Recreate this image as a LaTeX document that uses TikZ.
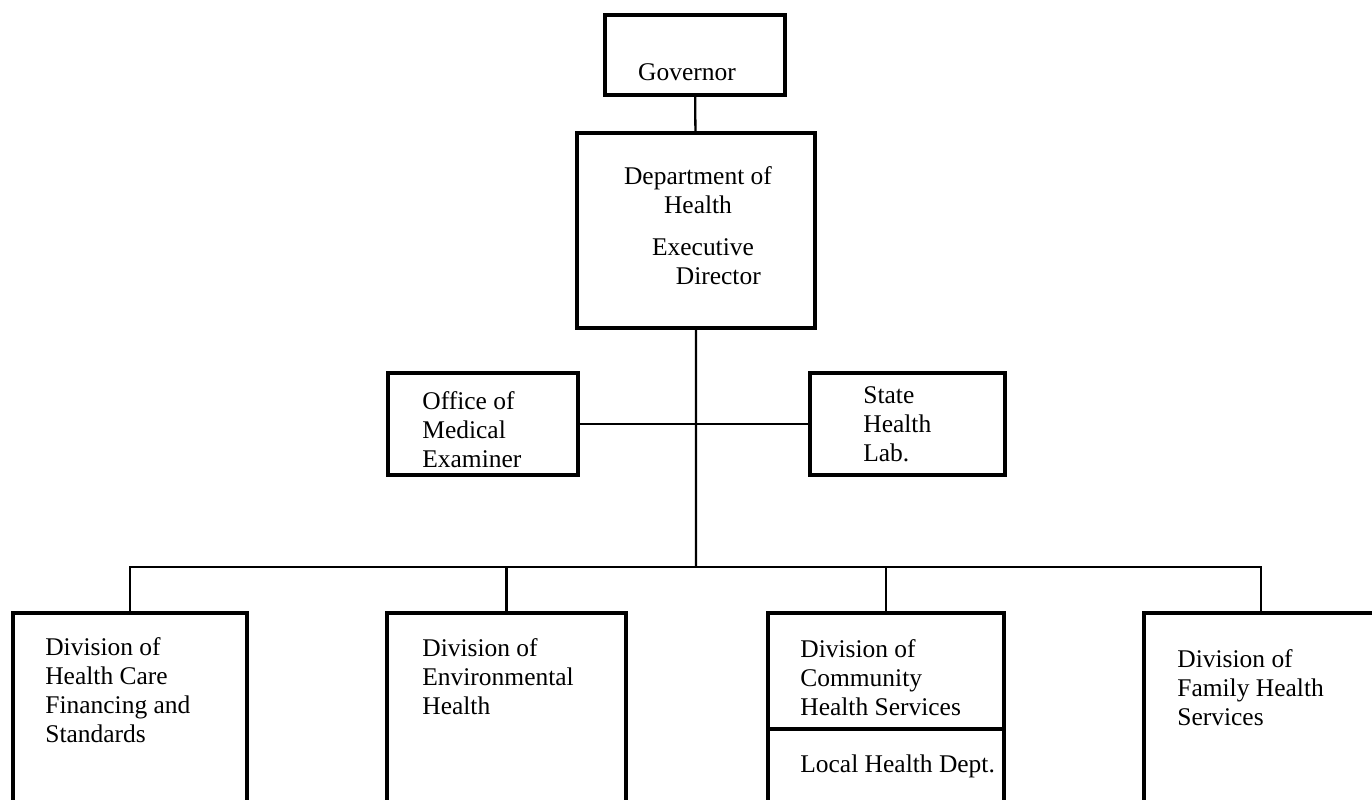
\documentclass[tikz,border=0pt]{standalone}
\usepackage{fontspec}
\setmainfont{Liberation Serif}
\usetikzlibrary{positioning}

\begin{document}
\begin{tikzpicture}[x=0.02cm, y=-0.02cm,
    box/.style={draw, line width=2.2pt, rectangle, outer sep=0pt, inner sep=0pt},
    link/.style={line width=1.3pt},
    lbl/.style={inner sep=0pt, align=left, anchor=north west,
        font=\fontsize{14.5}{16.5}\selectfont}]
    \useasboundingbox (0,0) rectangle (1372,800);
    \clip (0,0) rectangle (1372,800);

    % Top of the chart
    \node[box, anchor=north west, minimum width=3.6cm, minimum height=1.6cm] (gov) at (605,15) {};
    \node[box, anchor=north west, minimum width=4.76cm, minimum height=3.9cm] (dept) at (577,133) {};

    % Staff offices
    \node[box, anchor=north west, minimum width=3.8cm, minimum height=2.04cm] (ome) at (388,373) {};
    \node[box, anchor=north west, minimum width=3.9cm, minimum height=2.04cm] (lab) at (810,373) {};

    % Divisions
    \node[box, anchor=north west, minimum width=4.68cm, minimum height=4.4cm] (hcf) at (13,613) {};
    \node[box, anchor=north west, minimum width=4.78cm, minimum height=4.4cm] (env) at (387,613) {};
    \node[box, anchor=north west, minimum width=4.72cm, minimum height=2.32cm] (chs) at (768,613) {};
    \node[box, below=0pt of chs, minimum width=4.72cm, minimum height=2.2cm] (ldh) {};
    \node[box, anchor=north west, minimum width=4.68cm, minimum height=4.4cm] (fhs) at (1144,613) {};

    % Labels
    \node[lbl, anchor=center] (gov-t) at (687,72) {Governor};
    \node[lbl, anchor=north, align=center] (dept-t) at (698,166) {Department of\\Health};
    \node[lbl, anchor=north, align=center] (dir-t) at (703,238) {Executive\\\hspace*{1.2em}Director};
    \node[lbl] (ome-t) at ([shift={(34,18)}]ome.north west) {Office of\\Medical\\Examiner};
    \node[lbl] (lab-t) at ([shift={(53,13)}]lab.north west) {State\\Health\\Lab.};
    \node[lbl] (hcf-t) at ([shift={(32,24)}]hcf.north west) {Division of\\Health Care\\Financing and\\Standards};
    \node[lbl] (env-t) at ([shift={(35,25)}]env.north west) {Division of\\Environmental\\Health};
    \node[lbl] (chs-t) at ([shift={(32,26)}]chs.north west) {Division of\\Community\\Health Services};
    \node[lbl] (ldh-t) at ([shift={(32,25)}]ldh.north west) {Local Health Dept.};
    \node[lbl] (fhs-t) at ([shift={(33,36)}]fhs.north west) {Division of\\Family Health\\Services};

    % Connectors
    \coordinate (bus) at (696,567);
    \draw[link] (gov) -- (dept);
    \draw[link] (dept.south) -- (bus);
    \draw[link] (ome.east) -- (lab.west);
    \draw[link] (hcf.north) |- (bus) -| (fhs.north);
    \draw[link] (env.north) -- (env.north |- bus);
    \draw[link] (chs.north) -- (chs.north |- bus);
\end{tikzpicture}
\end{document}
